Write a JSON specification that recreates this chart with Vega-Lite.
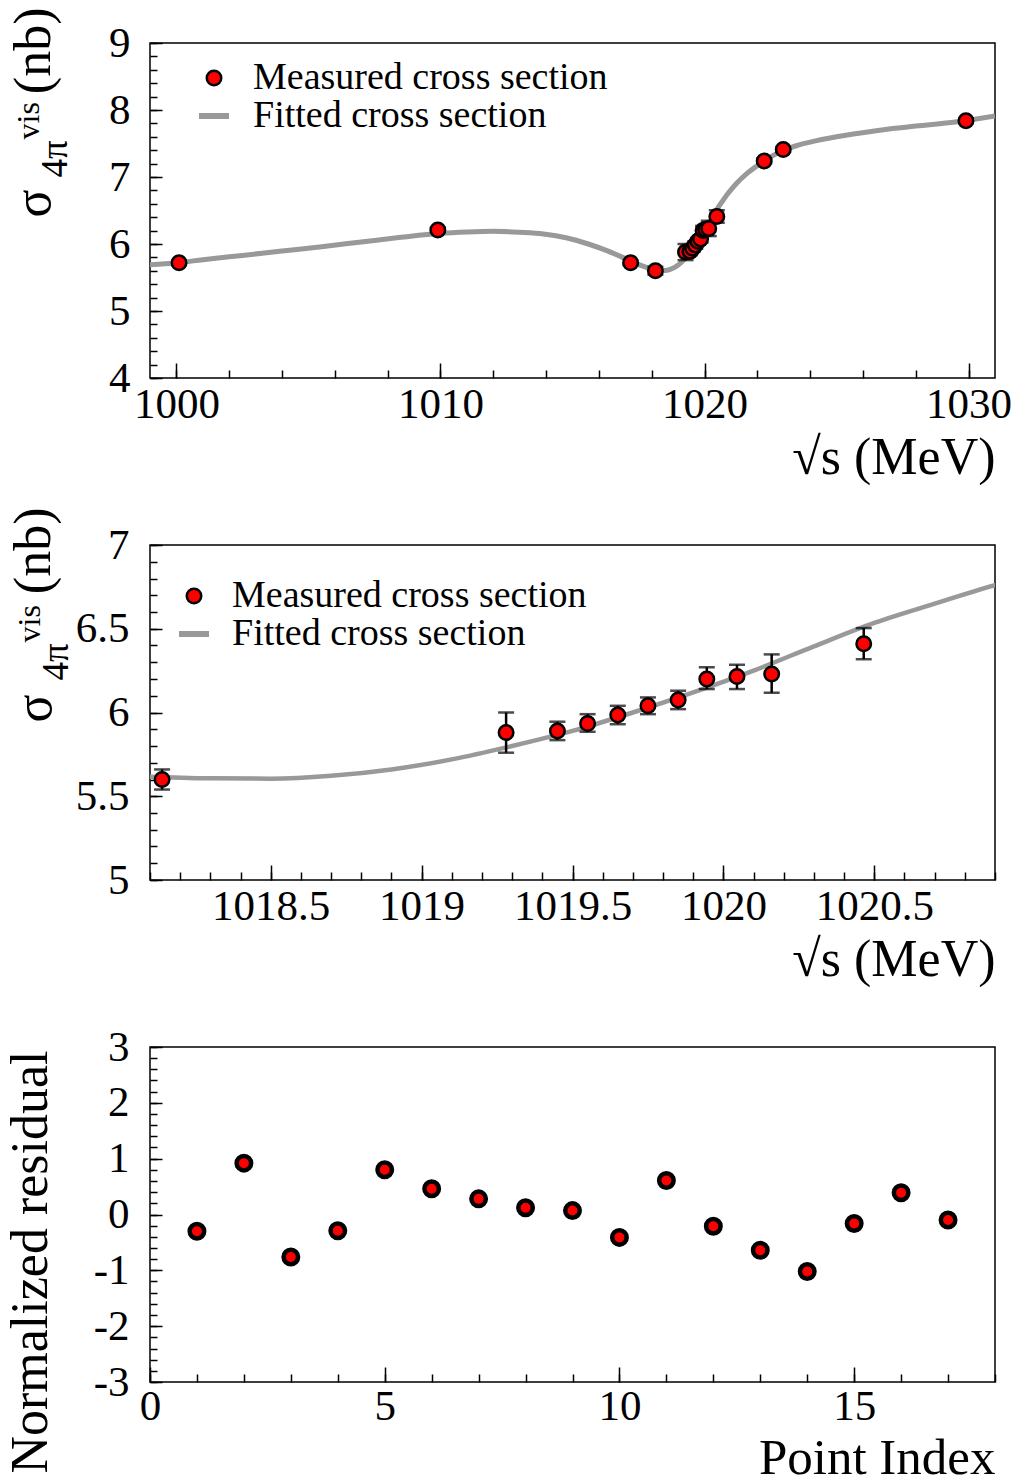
{
  "$schema": "https://vega.github.io/schema/vega-lite/v6.json",
  "background": "white",
  "padding": {"left": 3, "top": 6, "right": 0, "bottom": 0},
  "datasets": {
    "meas": [
      {"E": 1000.1, "sigma": 5.72, "lo": 5.685, "hi": 5.755, "series": "Measured cross section"},
      {"E": 1009.9, "sigma": 6.21, "lo": 6.175, "hi": 6.245, "series": "Measured cross section"},
      {"E": 1017.2, "sigma": 5.72, "lo": 5.685, "hi": 5.755, "series": "Measured cross section"},
      {"E": 1018.14, "sigma": 5.6, "lo": 5.54, "hi": 5.66, "series": "Measured cross section"},
      {"E": 1019.28, "sigma": 5.88, "lo": 5.76, "hi": 6.0, "series": "Measured cross section"},
      {"E": 1019.45, "sigma": 5.89, "lo": 5.835, "hi": 5.945, "series": "Measured cross section"},
      {"E": 1019.55, "sigma": 5.935, "lo": 5.885, "hi": 5.99, "series": "Measured cross section"},
      {"E": 1019.65, "sigma": 5.985, "lo": 5.93, "hi": 6.04, "series": "Measured cross section"},
      {"E": 1019.75, "sigma": 6.04, "lo": 5.99, "hi": 6.09, "series": "Measured cross section"},
      {"E": 1019.85, "sigma": 6.075, "lo": 6.02, "hi": 6.13, "series": "Measured cross section"},
      {"E": 1019.945, "sigma": 6.2, "lo": 6.14, "hi": 6.27, "series": "Measured cross section"},
      {"E": 1020.045, "sigma": 6.215, "lo": 6.14, "hi": 6.285, "series": "Measured cross section"},
      {"E": 1020.16, "sigma": 6.23, "lo": 6.118, "hi": 6.347, "series": "Measured cross section"},
      {"E": 1020.465, "sigma": 6.41, "lo": 6.318, "hi": 6.504, "series": "Measured cross section"},
      {"E": 1022.26, "sigma": 7.24, "lo": 7.205, "hi": 7.275, "series": "Measured cross section"},
      {"E": 1022.98, "sigma": 7.41, "lo": 7.375, "hi": 7.445, "series": "Measured cross section"},
      {"E": 1029.9, "sigma": 7.84, "lo": 7.805, "hi": 7.875, "series": "Measured cross section"}
    ],
    "fit": [
      {"E": 999.0, "sigma": 5.69}, {"E": 1000.0, "sigma": 5.72}, {"E": 1001.0, "sigma": 5.765},
      {"E": 1002.5, "sigma": 5.83}, {"E": 1004.0, "sigma": 5.895}, {"E": 1005.5, "sigma": 5.96},
      {"E": 1007.0, "sigma": 6.03}, {"E": 1008.5, "sigma": 6.1}, {"E": 1010.0, "sigma": 6.16},
      {"E": 1011.0, "sigma": 6.18}, {"E": 1012.0, "sigma": 6.19}, {"E": 1013.0, "sigma": 6.175},
      {"E": 1013.9, "sigma": 6.15}, {"E": 1014.8, "sigma": 6.09}, {"E": 1015.6, "sigma": 6.0},
      {"E": 1016.3, "sigma": 5.9}, {"E": 1016.9, "sigma": 5.8}, {"E": 1017.4, "sigma": 5.71},
      {"E": 1017.8, "sigma": 5.65}, {"E": 1018.1, "sigma": 5.617}, {"E": 1018.3, "sigma": 5.607},
      {"E": 1018.5, "sigma": 5.605}, {"E": 1018.7, "sigma": 5.622}, {"E": 1018.9, "sigma": 5.66},
      {"E": 1019.1, "sigma": 5.72}, {"E": 1019.3, "sigma": 5.8}, {"E": 1019.5, "sigma": 5.89},
      {"E": 1019.7, "sigma": 6.0}, {"E": 1019.9, "sigma": 6.12}, {"E": 1020.1, "sigma": 6.25},
      {"E": 1020.3, "sigma": 6.395}, {"E": 1020.5, "sigma": 6.535}, {"E": 1020.7, "sigma": 6.65},
      {"E": 1020.9, "sigma": 6.76}, {"E": 1021.2, "sigma": 6.9}, {"E": 1021.6, "sigma": 7.05},
      {"E": 1022.0, "sigma": 7.17}, {"E": 1022.5, "sigma": 7.3}, {"E": 1023.0, "sigma": 7.4},
      {"E": 1023.5, "sigma": 7.47}, {"E": 1024.0, "sigma": 7.52}, {"E": 1025.0, "sigma": 7.6},
      {"E": 1026.5, "sigma": 7.69}, {"E": 1028.0, "sigma": 7.76}, {"E": 1029.5, "sigma": 7.82},
      {"E": 1031.0, "sigma": 7.91}
    ],
    "resid": [
      {"idx": 1, "r": -0.3}, {"idx": 2, "r": 0.92}, {"idx": 3, "r": -0.76}, {"idx": 4, "r": -0.29},
      {"idx": 5, "r": 0.8}, {"idx": 6, "r": 0.46}, {"idx": 7, "r": 0.28}, {"idx": 8, "r": 0.12},
      {"idx": 9, "r": 0.07}, {"idx": 10, "r": -0.41}, {"idx": 11, "r": 0.61}, {"idx": 12, "r": -0.21},
      {"idx": 13, "r": -0.64}, {"idx": 14, "r": -1.02}, {"idx": 15, "r": -0.16}, {"idx": 16, "r": 0.39},
      {"idx": 17, "r": -0.1}
    ]
  },
  "vconcat": [
    {
      "width": 845,
      "height": 335,
      "resolve": {"axis": {"x": "independent", "y": "independent"}},
      "layer": [
        {
          "data": {"name": "fit"},
          "mark": {"type": "line", "color": "#999999", "strokeWidth": 5, "interpolate": "monotone", "clip": true},
          "encoding": {
            "x": {"field": "E", "type": "quantitative", "scale": {"domain": [999, 1031], "nice": false, "zero": false},
              "axis": {"orient": "bottom", "values": [1000, 1010, 1020, 1030], "ticks": false, "tickSize": 0, "labelPadding": 5, "labelExpr": "'' + datum.value",
                "title": "√s (MeV)", "titleX": 845, "titleY": 95, "titleAlign": "right", "titleBaseline": "alphabetic", "titleAngle": 0}},
            "y": {"field": "sigma", "type": "quantitative", "scale": {"domain": [4, 9], "nice": false, "zero": false},
              "axis": {"orient": "left", "values": [4, 5, 6, 7, 8, 9], "ticks": false, "tickSize": 0, "labelPadding": 20, "labelExpr": "'' + datum.value",
                "title": "(nb)", "titleAngle": 270, "titleX": -101, "titleY": -36, "titleAlign": "right", "titleBaseline": "alphabetic"}}
          }
        },
        {
          "data": {"name": "meas"},
          "mark": {"type": "rule", "color": "black", "strokeWidth": 2.5},
          "encoding": {
            "x": {"field": "E", "type": "quantitative",
              "axis": {"orient": "bottom", "values": [1000, 1010, 1020, 1030], "labels": false, "tickSize": -15, "title": null}},
            "y": {"field": "lo", "type": "quantitative",
              "axis": {"orient": "left", "values": [4, 5, 6, 7, 8, 9], "labels": false, "tickSize": -12,
                "title": "σ", "titleFontSize": 52, "titleAngle": 270, "titleX": -101, "titleY": 174, "titleAlign": "left", "titleBaseline": "alphabetic"}},
            "y2": {"field": "hi"}
          }
        },
        {
          "data": {"name": "meas"},
          "mark": {"type": "tick", "orient": "horizontal", "color": "black", "size": 16, "thickness": 2.5},
          "encoding": {
            "x": {"field": "E", "type": "quantitative",
              "axis": {"orient": "bottom", "values": [1000, 1002, 1004, 1006, 1008, 1010, 1012, 1014, 1016, 1018, 1020, 1022, 1024, 1026, 1028, 1030], "labels": false, "tickSize": -8, "title": null}},
            "y": {"field": "lo", "type": "quantitative",
              "axis": {"orient": "left", "values": [4, 4.2, 4.4, 4.6, 4.8, 5, 5.2, 5.4, 5.6, 5.8, 6, 6.2, 6.4, 6.6, 6.8, 7, 7.2, 7.4, 7.6, 7.8, 8, 8.2, 8.4, 8.6, 8.8, 9], "labels": false, "tickSize": -7,
                "title": "4π", "titleFontSize": 37, "titleAngle": 270, "titleX": -84, "titleY": 134, "titleAlign": "left", "titleBaseline": "alphabetic"}}
          }
        },
        {
          "data": {"name": "meas"},
          "mark": {"type": "tick", "orient": "horizontal", "color": "black", "size": 16, "thickness": 2.5},
          "encoding": {
            "x": {"field": "E", "type": "quantitative", "axis": null},
            "y": {"field": "hi", "type": "quantitative",
              "axis": {"orient": "left", "labels": false, "ticks": false, "tickSize": 0,
                "title": "vis", "titleFontSize": 32, "titleAngle": 270, "titleX": -112, "titleY": 96, "titleAlign": "left", "titleBaseline": "alphabetic"}}
          }
        },
        {
          "data": {"name": "meas"},
          "mark": {"type": "point", "filled": true, "opacity": 1},
          "encoding": {
            "x": {"field": "E", "type": "quantitative", "axis": null},
            "y": {"field": "sigma", "type": "quantitative", "axis": null},
            "fill": {"field": "series", "type": "nominal", "scale": {"domain": ["Measured cross section", "Fitted cross section"], "range": ["#ff0000", "#999999"]},
              "legend": {"title": null, "orient": "none", "legendX": 45, "legendY": 16, "padding": 0, "labelFontSize": 38, "labelFont": "Liberation Serif", "labelColor": "black", "labelOffset": 20, "rowPadding": -8, "labelLimit": 0}},
            "stroke": {"field": "series", "type": "nominal", "scale": {"domain": ["Measured cross section", "Fitted cross section"], "range": ["#000000", "#999999"]},
              "legend": {"title": null, "orient": "none", "legendX": 45, "legendY": 16, "padding": 0, "labelFontSize": 38, "labelFont": "Liberation Serif", "labelColor": "black", "labelOffset": 20, "rowPadding": -8, "labelLimit": 0}},
            "shape": {"field": "series", "type": "nominal", "scale": {"domain": ["Measured cross section", "Fitted cross section"], "range": ["circle", "stroke"]},
              "legend": {"title": null, "orient": "none", "legendX": 45, "legendY": 16, "padding": 0, "labelFontSize": 38, "labelFont": "Liberation Serif", "labelColor": "black", "labelOffset": 20, "rowPadding": -8, "labelLimit": 0}},
            "size": {"field": "series", "type": "nominal", "scale": {"domain": ["Measured cross section", "Fitted cross section"], "range": [210, 900]},
              "legend": {"title": null, "orient": "none", "legendX": 45, "legendY": 16, "padding": 0, "labelFontSize": 38, "labelFont": "Liberation Serif", "labelColor": "black", "labelOffset": 20, "rowPadding": -8, "labelLimit": 0}},
            "strokeWidth": {"field": "series", "type": "nominal", "scale": {"domain": ["Measured cross section", "Fitted cross section"], "range": [2.5, 6]},
              "legend": {"title": null, "orient": "none", "legendX": 45, "legendY": 16, "padding": 0, "labelFontSize": 38, "labelFont": "Liberation Serif", "labelColor": "black", "labelOffset": 20, "rowPadding": -8, "labelLimit": 0}}
          }
        }
      ]
    },
    {
      "width": 845,
      "height": 335,
      "resolve": {"axis": {"x": "independent", "y": "independent"}},
      "layer": [
        {
          "data": {"name": "fit"},
          "mark": {"type": "line", "color": "#999999", "strokeWidth": 4.5, "interpolate": "monotone", "clip": true},
          "encoding": {
            "x": {"field": "E", "type": "quantitative", "scale": {"domain": [1018.1, 1020.9], "nice": false, "zero": false},
              "axis": {"orient": "bottom", "values": [1018.5, 1019, 1019.5, 1020, 1020.5], "ticks": false, "tickSize": 0, "labelPadding": 5, "labelExpr": "'' + datum.value",
                "title": "√s (MeV)", "titleX": 845, "titleY": 95, "titleAlign": "right", "titleBaseline": "alphabetic", "titleAngle": 0}},
            "y": {"field": "sigma", "type": "quantitative", "scale": {"domain": [5, 7], "nice": false, "zero": false},
              "axis": {"orient": "left", "values": [5, 5.5, 6, 6.5, 7], "ticks": false, "tickSize": 0, "labelPadding": 21, "labelExpr": "'' + datum.value",
                "title": "(nb)", "titleAngle": 270, "titleX": -101, "titleY": -38, "titleAlign": "right", "titleBaseline": "alphabetic"}}
          }
        },
        {
          "data": {"name": "meas"},
          "mark": {"type": "rule", "color": "black", "strokeWidth": 2.5, "clip": true},
          "encoding": {
            "x": {"field": "E", "type": "quantitative",
              "axis": {"orient": "bottom", "values": [1018.5, 1019, 1019.5, 1020, 1020.5], "labels": false, "tickSize": -15, "title": null}},
            "y": {"field": "lo", "type": "quantitative",
              "axis": {"orient": "left", "values": [5, 5.5, 6, 6.5, 7], "labels": false, "tickSize": -12,
                "title": "σ", "titleFontSize": 52, "titleAngle": 270, "titleX": -100, "titleY": 177, "titleAlign": "left", "titleBaseline": "alphabetic"}},
            "y2": {"field": "hi"}
          }
        },
        {
          "data": {"name": "meas"},
          "mark": {"type": "tick", "orient": "horizontal", "color": "black", "size": 16, "thickness": 2.5, "clip": true},
          "encoding": {
            "x": {"field": "E", "type": "quantitative",
              "axis": {"orient": "bottom", "values": [1018.1, 1018.2, 1018.3, 1018.4, 1018.5, 1018.6, 1018.7, 1018.8, 1018.9, 1019, 1019.1, 1019.2, 1019.3, 1019.4, 1019.5, 1019.6, 1019.7, 1019.8, 1019.9, 1020, 1020.1, 1020.2, 1020.3, 1020.4, 1020.5, 1020.6, 1020.7, 1020.8, 1020.9], "labels": false, "tickSize": -8, "title": null}},
            "y": {"field": "lo", "type": "quantitative",
              "axis": {"orient": "left", "values": [5, 5.1, 5.2, 5.3, 5.4, 5.5, 5.6, 5.7, 5.8, 5.9, 6, 6.1, 6.2, 6.3, 6.4, 6.5, 6.6, 6.7, 6.8, 6.9, 7], "labels": false, "tickSize": -7,
                "title": "4π", "titleFontSize": 37, "titleAngle": 270, "titleX": -83, "titleY": 135, "titleAlign": "left", "titleBaseline": "alphabetic"}}
          }
        },
        {
          "data": {"name": "meas"},
          "mark": {"type": "tick", "orient": "horizontal", "color": "black", "size": 16, "thickness": 2.5, "clip": true},
          "encoding": {
            "x": {"field": "E", "type": "quantitative", "axis": null},
            "y": {"field": "hi", "type": "quantitative",
              "axis": {"orient": "left", "labels": false, "ticks": false, "tickSize": 0,
                "title": "vis", "titleFontSize": 32, "titleAngle": 270, "titleX": -111, "titleY": 97, "titleAlign": "left", "titleBaseline": "alphabetic"}}
          }
        },
        {
          "data": {"name": "meas"},
          "mark": {"type": "point", "filled": true, "opacity": 1, "clip": true},
          "encoding": {
            "x": {"field": "E", "type": "quantitative", "axis": null},
            "y": {"field": "sigma", "type": "quantitative", "axis": null},
            "fill": {"field": "series", "type": "nominal", "scale": {"domain": ["Measured cross section", "Fitted cross section"], "range": ["#ff0000", "#999999"]},
              "legend": {"title": null, "orient": "none", "legendX": 25, "legendY": 32, "padding": 0, "labelFontSize": 38, "labelFont": "Liberation Serif", "labelColor": "black", "labelOffset": 19, "rowPadding": -6, "labelLimit": 0}},
            "stroke": {"field": "series", "type": "nominal", "scale": {"domain": ["Measured cross section", "Fitted cross section"], "range": ["#000000", "#999999"]},
              "legend": {"title": null, "orient": "none", "legendX": 25, "legendY": 32, "padding": 0, "labelFontSize": 38, "labelFont": "Liberation Serif", "labelColor": "black", "labelOffset": 19, "rowPadding": -6, "labelLimit": 0}},
            "shape": {"field": "series", "type": "nominal", "scale": {"domain": ["Measured cross section", "Fitted cross section"], "range": ["circle", "stroke"]},
              "legend": {"title": null, "orient": "none", "legendX": 25, "legendY": 32, "padding": 0, "labelFontSize": 38, "labelFont": "Liberation Serif", "labelColor": "black", "labelOffset": 19, "rowPadding": -6, "labelLimit": 0}},
            "size": {"field": "series", "type": "nominal", "scale": {"domain": ["Measured cross section", "Fitted cross section"], "range": [210, 900]},
              "legend": {"title": null, "orient": "none", "legendX": 25, "legendY": 32, "padding": 0, "labelFontSize": 38, "labelFont": "Liberation Serif", "labelColor": "black", "labelOffset": 19, "rowPadding": -6, "labelLimit": 0}},
            "strokeWidth": {"field": "series", "type": "nominal", "scale": {"domain": ["Measured cross section", "Fitted cross section"], "range": [2.5, 6]},
              "legend": {"title": null, "orient": "none", "legendX": 25, "legendY": 32, "padding": 0, "labelFontSize": 38, "labelFont": "Liberation Serif", "labelColor": "black", "labelOffset": 19, "rowPadding": -6, "labelLimit": 0}}
          }
        }
      ]
    },
    {
      "width": 845,
      "height": 335,
      "resolve": {"axis": {"x": "independent", "y": "independent"}},
      "layer": [
        {
          "data": {"name": "resid"},
          "mark": {"type": "point", "filled": true, "size": 210, "fill": "#ff0000", "stroke": "#000000", "strokeWidth": 4.5, "opacity": 1},
          "encoding": {
            "x": {"field": "idx", "type": "quantitative", "scale": {"domain": [0, 18], "nice": false, "zero": false},
              "axis": {"orient": "bottom", "values": [0, 5, 10, 15], "ticks": false, "tickSize": 0, "labelPadding": 3, "labelExpr": "'' + datum.value",
                "title": "Point Index", "titleFontSize": 51, "titleX": 845, "titleY": 91, "titleAlign": "right", "titleBaseline": "alphabetic", "titleAngle": 0}},
            "y": {"field": "r", "type": "quantitative", "scale": {"domain": [-3, 3], "nice": false, "zero": false},
              "axis": {"orient": "left", "values": [-3, -2, -1, 0, 1, 2, 3], "ticks": false, "tickSize": 0, "labelPadding": 21, "labelExpr": "'' + datum.value",
                "title": "Normalized residual", "titleAngle": 270, "titleX": -104, "titleY": 3, "titleAlign": "right", "titleBaseline": "alphabetic"}}
          }
        },
        {
          "data": {"values": []},
          "mark": {"type": "point"},
          "encoding": {
            "x": {"field": "idx", "type": "quantitative",
              "axis": {"orient": "bottom", "values": [0, 5, 10, 15], "labels": false, "tickSize": -15, "title": null}},
            "y": {"field": "r", "type": "quantitative",
              "axis": {"orient": "left", "values": [-3, -2, -1, 0, 1, 2, 3], "labels": false, "tickSize": -12, "title": null}}
          }
        },
        {
          "data": {"values": []},
          "mark": {"type": "point"},
          "encoding": {
            "x": {"field": "idx", "type": "quantitative",
              "axis": {"orient": "bottom", "values": [0, 1, 2, 3, 4, 5, 6, 7, 8, 9, 10, 11, 12, 13, 14, 15, 16, 17, 18], "labels": false, "tickSize": -8, "title": null}},
            "y": {"field": "r", "type": "quantitative",
              "axis": {"orient": "left", "values": [-3, -2.8, -2.6, -2.4, -2.2, -2, -1.8, -1.6, -1.4, -1.2, -1, -0.8, -0.6, -0.4, -0.2, 0, 0.2, 0.4, 0.6, 0.8, 1, 1.2, 1.4, 1.6, 1.8, 2, 2.2, 2.4, 2.6, 2.8, 3], "labels": false, "tickSize": -7, "title": null}}
          }
        }
      ]
    }
  ],
  "spacing": 167,
  "bounds": "flush",
  "resolve": {"scale": {"fill": "independent", "stroke": "independent", "shape": "independent", "size": "independent", "strokeWidth": "independent"}},
  "config": {
    "font": "Liberation Serif",
    "view": {"stroke": "#000000", "strokeWidth": 1.5},
    "axis": {
      "domain": false, "grid": false,
      "labelFont": "Liberation Serif", "labelFontSize": 43, "labelColor": "#000000",
      "labelFlush": false, "labelOverlap": false, "labelBound": false,
      "titleFont": "Liberation Serif", "titleFontSize": 52, "titleFontWeight": "normal", "titleColor": "#000000",
      "tickColor": "#000000", "tickWidth": 1.5
    }
  }
}
